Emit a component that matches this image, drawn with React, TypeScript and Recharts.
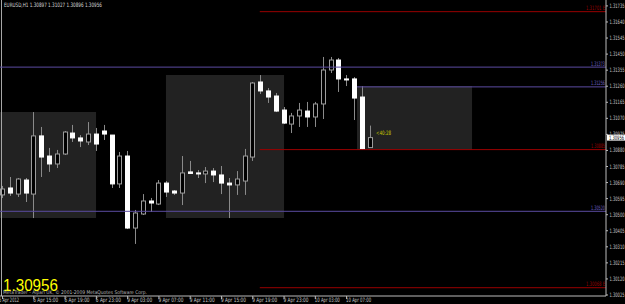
import React from 'react';
import { ComposedChart, Bar, XAxis, YAxis, ReferenceLine, ReferenceArea, ReferenceDot } from 'recharts';

// EURUSD H1 candles (index 0 = 5/6 Apr 2012 11:00)
const opens = [
  1.30617, 1.30658, 1.30622, 1.30705, 1.30622, 1.30966, 1.30847, 1.30800, 1.30859, 1.30983,
  1.30954, 1.30930, 1.30977, 1.30995, 1.30971, 1.30682, 1.30847, 1.30421, 1.30504, 1.30581,
  1.30563, 1.30687, 1.30640, 1.30628, 1.30753, 1.30747, 1.30741, 1.30758, 1.30735, 1.30687,
  1.30676, 1.30699, 1.30841, 1.31285, 1.31232, 1.31202, 1.31119, 1.31036, 1.31084, 1.31113,
  1.31078, 1.31155, 1.31356, 1.31415, 1.31303, 1.31303, 1.31196, 1.30897,
];
const highs = [
  1.30670, 1.30723, 1.30717, 1.30717, 1.31107, 1.31019, 1.30895, 1.30883, 1.30995, 1.31031,
  1.30971, 1.31048, 1.31013, 1.31031, 1.30971, 1.30871, 1.30877, 1.30528, 1.30622, 1.30599,
  1.30705, 1.30699, 1.30646, 1.30847, 1.30818, 1.30764, 1.30782, 1.30776, 1.30788, 1.30717,
  1.30758, 1.30889, 1.31285, 1.31326, 1.31249, 1.31220, 1.31137, 1.31102, 1.31161, 1.31167,
  1.31167, 1.31433, 1.31433, 1.31427, 1.31326, 1.31314, 1.31261, 1.31027,
];
const lows = [
  1.30599, 1.30611, 1.30605, 1.30575, 1.30480, 1.30723, 1.30753, 1.30776, 1.30853, 1.30930,
  1.30900, 1.30912, 1.30877, 1.30942, 1.30658, 1.30658, 1.30415, 1.30327, 1.30498, 1.30516,
  1.30557, 1.30605, 1.30617, 1.30557, 1.30741, 1.30717, 1.30687, 1.30693, 1.30622, 1.30480,
  1.30617, 1.30617, 1.30818, 1.31214, 1.31161, 1.31107, 1.31036, 1.30983, 1.31019, 1.31019,
  1.31019, 1.31066, 1.31338, 1.31226, 1.31261, 1.31060, 1.30883, 1.30896,
];
const closes = [
  1.30652, 1.30628, 1.30711, 1.30628, 1.30966, 1.30841, 1.30800, 1.30859, 1.30989, 1.30954,
  1.30936, 1.30977, 1.30918, 1.30977, 1.30682, 1.30847, 1.30421, 1.30510, 1.30581, 1.30569,
  1.30687, 1.30634, 1.30628, 1.30747, 1.30744, 1.30741, 1.30758, 1.30735, 1.30687, 1.30676,
  1.30711, 1.30847, 1.31279, 1.31232, 1.31196, 1.31113, 1.31042, 1.31084, 1.31119, 1.31078,
  1.31155, 1.31356, 1.31415, 1.31303, 1.31297, 1.31190, 1.30889, 1.30956,
];

const xTickIndex = [0, 4, 8, 12, 16, 20, 24, 28, 32, 36, 40, 44];
const xTickLabels = [
  '5 Apr 2012', '6 Apr 15:00', '6 Apr 19:00', '6 Apr 23:00', '9 Apr 03:00', '9 Apr 07:00',
  '9 Apr 11:00', '9 Apr 15:00', '9 Apr 19:00', '9 Apr 23:00', '10 Apr 03:00', '10 Apr 07:00',
];
const yTicks = [
  1.31735, 1.3164, 1.31545, 1.3145, 1.31355, 1.3126, 1.31165, 1.3107, 1.30975, 1.3088,
  1.30785, 1.3069, 1.30595, 1.305, 1.30405, 1.3031, 1.30215, 1.3012, 1.30025,
];

const redLevels = [1.31701, 1.30885, 1.30068];
const redLabels = ['1.31701 E', '1.30885', '1.30068 E'];
const purpleLevels = [1.31373, 1.31256, 1.3052];
const purpleLabels = ['1.31373', '1.31256', '1.30520'];

// session boxes: [fromIndex, toIndex, high, low]
const boxFrom = [-0.32, 20.9, 45.33];
const boxTo = [11.96, 36.0, 60.04];
const boxHigh = [1.31107, 1.31326, 1.31261];
const boxLow = [1.3048, 1.3048, 1.30883];

const bidPrice = 1.30956;
const timerText = '<40:28';
const titleText = 'EURUSD,H1  1.30897 1.31027 1.30896 1.30956';

const data = opens.map((o, i) => ({ idx: i, open: o, high: highs[i], low: lows[i], close: closes[i] }));

const X_MIN = -0.32;
const X_MAX = 77.17;
const Y_MIN = 1.30019;
const Y_MAX = 1.3177;

const RED = '#9a0000';
const PURPLE = '#5a4ba0';
const PURPLE_TXT = '#6f60c0';

const Candle = (props: any) => {
  const { x, y, width, height, payload } = props;
  if (!payload) return null;
  const { open, close, high, low } = payload;
  const top = Math.min(y, y + height);
  const h = Math.abs(height);
  const toY = (p: number) => (high === low ? top : top + ((high - p) / (high - low)) * h);
  const cx = Math.round(x + width / 2) + 0.5;
  const yo = toY(open);
  const yc = toY(close);
  const bull = close > open;
  const bt = Math.min(yo, yc);
  const bb = Math.max(yo, yc);
  return (
    <g>
      <line x1={cx} x2={cx} y1={top} y2={top + h} stroke="#8a8a8a" strokeWidth={1} />
      <rect
        x={cx - 2}
        y={bt}
        width={4}
        height={Math.max(bb - bt, 0.8)}
        fill={bull ? '#000000' : '#ffffff'}
        stroke={bull ? '#9c9c9c' : '#ffffff'}
        strokeWidth={1}
      />
    </g>
  );
};

const YTick = (props: any) => {
  const { y, payload } = props;
  return (
    <g>
      <line x1={606} x2={608} y1={y} y2={y} stroke="#bbbbbb" />
      <text x={609.5} y={y + 2} fontSize={6} fill="#c8c8c8" fontFamily="DejaVu Sans" textLength={15} lengthAdjust="spacingAndGlyphs">
        {Number(payload.value).toFixed(5)}
      </text>
    </g>
  );
};

const XTick = (props: any) => {
  const { x, payload, index } = props;
  const pos = xTickIndex.indexOf(payload.value);
  const label = xTickLabels[pos >= 0 ? pos : index] || '';
  const tx = pos === 0 ? x - 3.5 : x - 0.5;
  return (
    <g>
      <line x1={x} x2={x} y1={296} y2={299} stroke="#bbbbbb" />
      <text x={tx} y={301.5} fontSize={6} fill="#c8c8c8" fontFamily="DejaVu Sans" textLength={label.length > 10 ? 25 : pos === 0 ? 20 : 24} lengthAdjust="spacingAndGlyphs">
        {label}
      </text>
    </g>
  );
};

const levelLabel = (text: string, color: string) => (p: any) => {
  const vb = p.viewBox || {};
  const right = (vb.x || 0) + (vb.width || 0);
  return (
    <text x={right - 1} y={(vb.y || 0) - 1.5} fontSize={6} fill={color} textAnchor="end" fontFamily="DejaVu Sans" textLength={text.length > 7 ? 19 : 14} lengthAdjust="spacingAndGlyphs">
      {text}
    </text>
  );
};

const bidLabel = (p: any) => {
  const vb = p.viewBox || {};
  const right = (vb.x || 0) + (vb.width || 0);
  const cy = vb.y || 0;
  return (
    <g>
      <rect x={right + 1} y={cy - 3} width={19} height={6} fill="#ffffff" />
      <text x={right + 3} y={cy + 2} fontSize={6} fill="#000000" fontFamily="DejaVu Sans" textLength={15} lengthAdjust="spacingAndGlyphs">
        {bidPrice.toFixed(5)}
      </text>
    </g>
  );
};

const timerLabel = (p: any) => {
  const vb = p.viewBox || {};
  const cx = (vb.x || 0) + (vb.width || 0) / 2;
  const cy = (vb.y || 0) + (vb.height || 0) / 2;
  return (
    <text x={cx + 6} y={cy - 3} fontSize={6} fill="#c8c800" fontFamily="DejaVu Sans" textLength={15} lengthAdjust="spacingAndGlyphs">
      {timerText}
    </text>
  );
};

export default function App() {
  return (
    <div style={{ position: 'absolute', left: 0, top: 0, width: 625, height: 304, background: '#000000', overflow: 'hidden' }}>
      <ComposedChart width={625} height={304} data={data} margin={{ top: 0, right: 0, bottom: 0, left: 0 }}>
        <XAxis
          dataKey="idx"
          type="number"
          domain={[X_MIN, X_MAX]}
          allowDataOverflow
          ticks={xTickIndex}
          interval={0}
          height={8}
          axisLine={{ stroke: '#bbbbbb' }}
          tickLine={false}
          tick={<XTick />}
        />
        <YAxis
          type="number"
          orientation="right"
          domain={[Y_MIN, Y_MAX]}
          allowDataOverflow
          ticks={yTicks}
          interval={0}
          width={19}
          axisLine={{ stroke: '#bbbbbb' }}
          tickLine={false}
          tick={<YTick />}
        />
        {boxFrom.map((f, i) => (
          <ReferenceArea
            key={'box' + i}
            x1={f}
            x2={boxTo[i]}
            y1={boxLow[i]}
            y2={boxHigh[i]}
            fill="#222222"
            fillOpacity={1}
            stroke="none"
            ifOverflow="visible"
          />
        ))}
        <ReferenceLine x={-0.13} stroke="#a8a8a8" strokeWidth={1} ifOverflow="visible" />
        <ReferenceLine
          segment={[{ x: 32.9, y: redLevels[0] }, { x: X_MAX, y: redLevels[0] }]}
          stroke={RED}
          label={levelLabel(redLabels[0], RED)}
        />
        <ReferenceLine
          segment={[{ x: 32.9, y: redLevels[1] }, { x: X_MAX, y: redLevels[1] }]}
          stroke={RED}
          label={levelLabel(redLabels[1], RED)}
        />
        <ReferenceLine
          segment={[{ x: 32.9, y: redLevels[2] }, { x: X_MAX, y: redLevels[2] }]}
          stroke={RED}
          label={levelLabel(redLabels[2], RED)}
        />
        <ReferenceLine
          segment={[{ x: X_MIN, y: purpleLevels[0] }, { x: X_MAX, y: purpleLevels[0] }]}
          stroke={PURPLE}
          label={levelLabel(purpleLabels[0], PURPLE_TXT)}
        />
        <ReferenceLine
          segment={[{ x: 45.33, y: purpleLevels[1] }, { x: X_MAX, y: purpleLevels[1] }]}
          stroke={PURPLE}
          label={levelLabel(purpleLabels[1], PURPLE_TXT)}
        />
        <ReferenceLine
          segment={[{ x: X_MIN, y: purpleLevels[2] }, { x: X_MAX, y: purpleLevels[2] }]}
          stroke={PURPLE}
          label={levelLabel(purpleLabels[2], PURPLE_TXT)}
        />
        <Bar
          dataKey={(d: any) => [d.low, d.high]}
          barSize={5}
          shape={<Candle />}
          isAnimationActive={false}
        />
        <ReferenceLine y={bidPrice} stroke="none" strokeOpacity={0} label={bidLabel} ifOverflow="visible" />
        <ReferenceDot x={47} y={bidPrice} r={1} fill="none" stroke="none" label={timerLabel} />
      </ComposedChart>
      <svg width={625} height={304} style={{ position: 'absolute', left: 0, top: 0, pointerEvents: 'none' }}>
        <text x={4} y={7} fontSize={6} fill="#d8d8d8" fontFamily="DejaVu Sans" textLength={98} lengthAdjust="spacingAndGlyphs">
          {titleText}
        </text>
        <text x={3} y={290.5} fontSize={16} fill="#ffff00" fontFamily="Liberation Sans" textLength={55} lengthAdjust="spacingAndGlyphs">
          {bidPrice.toFixed(5)}
        </text>
        <text x={3} y={294} fontSize={5} fill="#b8b8b8" fontFamily="DejaVu Sans" textLength={144} lengthAdjust="spacingAndGlyphs">
          MetaTrader - Alpari UK, © 2001-2009 MetaQuotes Software Corp.
        </text>
      </svg>
    </div>
  );
}
